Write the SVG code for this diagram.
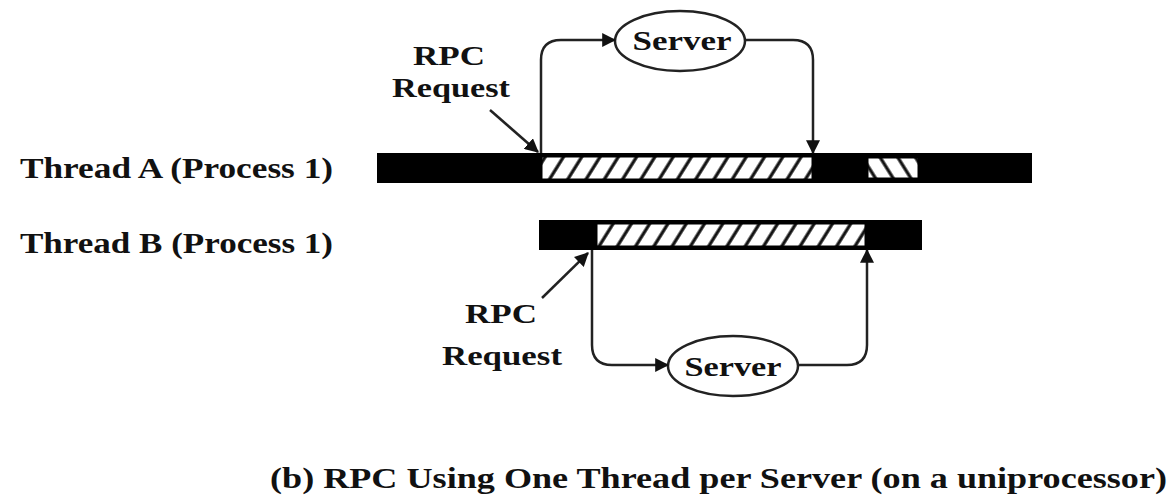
<svg xmlns="http://www.w3.org/2000/svg" width="1175" height="495" viewBox="0 0 1175 495">
<style>
text{font-family:'Liberation Serif',serif;font-weight:700;fill:#111;}
.lbl{font-size:30px;}
.rpc{font-size:27px;text-anchor:middle;}
.srv{font-size:28px;text-anchor:middle;}
.bar{fill:#000;}
.hatch{fill:url(#hatchF);stroke:#000;stroke-width:1;}
.hatchB{fill:url(#hatchB);stroke:#000;stroke-width:1;}
.ell{fill:#fff;stroke:#222;stroke-width:2.5;}
.conn{fill:none;stroke:#222;stroke-width:2.5;marker-end:url(#ah);}
</style>
<defs>
<marker id="ah" viewBox="0 0 12 12" refX="11" refY="6" markerWidth="14" markerHeight="14" markerUnits="userSpaceOnUse" orient="auto">
<path d="M0,0 L12,6 L0,12 z" fill="#111"/>
</marker>
<pattern id="hatchF" patternUnits="userSpaceOnUse" width="15.5" height="30" patternTransform="rotate(32)">
<rect width="15.5" height="30" fill="#fff"/>
<line x1="3" y1="0" x2="3" y2="30" stroke="#111" stroke-width="3.2"/>
</pattern>
<pattern id="hatchB" patternUnits="userSpaceOnUse" width="15" height="30" patternTransform="rotate(-32)">
<rect width="15" height="30" fill="#fff"/>
<line x1="3" y1="0" x2="3" y2="30" stroke="#111" stroke-width="3.2"/>
</pattern>
</defs>
<rect width="1175" height="495" fill="#fff"/>

<g id="threadA">
<text class="lbl" x="20" y="178" textLength="313" lengthAdjust="spacingAndGlyphs" font-family="Liberation Serif">Thread A (Process 1)</text>
<rect class="bar" x="377" y="153" width="655" height="30"/>
<rect class="hatch" x="542" y="157" width="270" height="22"/>
<rect class="hatchB" x="868" y="158" width="50" height="20"/>
</g>

<g id="threadB">
<text class="lbl" x="20" y="253" textLength="313" lengthAdjust="spacingAndGlyphs" font-family="Liberation Serif">Thread B (Process 1)</text>
<rect class="bar" x="539" y="220" width="383" height="30"/>
<rect class="hatch" x="597" y="224" width="268" height="22"/>
</g>

<g id="serverA">
<ellipse class="ell" cx="680" cy="41" rx="65" ry="30"/>
<text class="srv" x="682" y="50" textLength="99" lengthAdjust="spacingAndGlyphs" font-family="Liberation Serif">Server</text>
</g>

<g id="serverB">
<ellipse class="ell" cx="733" cy="366" rx="65" ry="30"/>
<text class="srv" x="733" y="376" textLength="97" lengthAdjust="spacingAndGlyphs" font-family="Liberation Serif">Server</text>
</g>

<g id="rpcA">
<text class="rpc" x="449" y="65" textLength="72" lengthAdjust="spacingAndGlyphs" font-family="Liberation Serif">RPC</text>
<text class="rpc" x="451" y="97" textLength="118" lengthAdjust="spacingAndGlyphs" font-family="Liberation Serif">Request</text>
</g>

<g id="rpcB">
<text class="rpc" x="501" y="323" textLength="72" lengthAdjust="spacingAndGlyphs" font-family="Liberation Serif">RPC</text>
<text class="rpc" x="502" y="365" textLength="120" lengthAdjust="spacingAndGlyphs" font-family="Liberation Serif">Request</text>
</g>

<g id="connectors">
<path class="conn" d="M541,153 V60 Q541,40 561,40 H615"/>
<path class="conn" d="M745,40 H793 Q813,40 813,60 V153"/>
<path class="conn" d="M592,250 V345 Q592,365 612,365 H668"/>
<path class="conn" d="M798,365 H847 Q867,365 867,345 V250"/>
<path class="conn" d="M490,110 L538,152"/>
<path class="conn" d="M542,298 L588,253"/>
</g>

<g id="caption">
<text class="lbl" x="270" y="488" textLength="897" lengthAdjust="spacingAndGlyphs" font-family="Liberation Serif">(b) RPC Using One Thread per Server (on a uniprocessor)</text>
</g>
</svg>
